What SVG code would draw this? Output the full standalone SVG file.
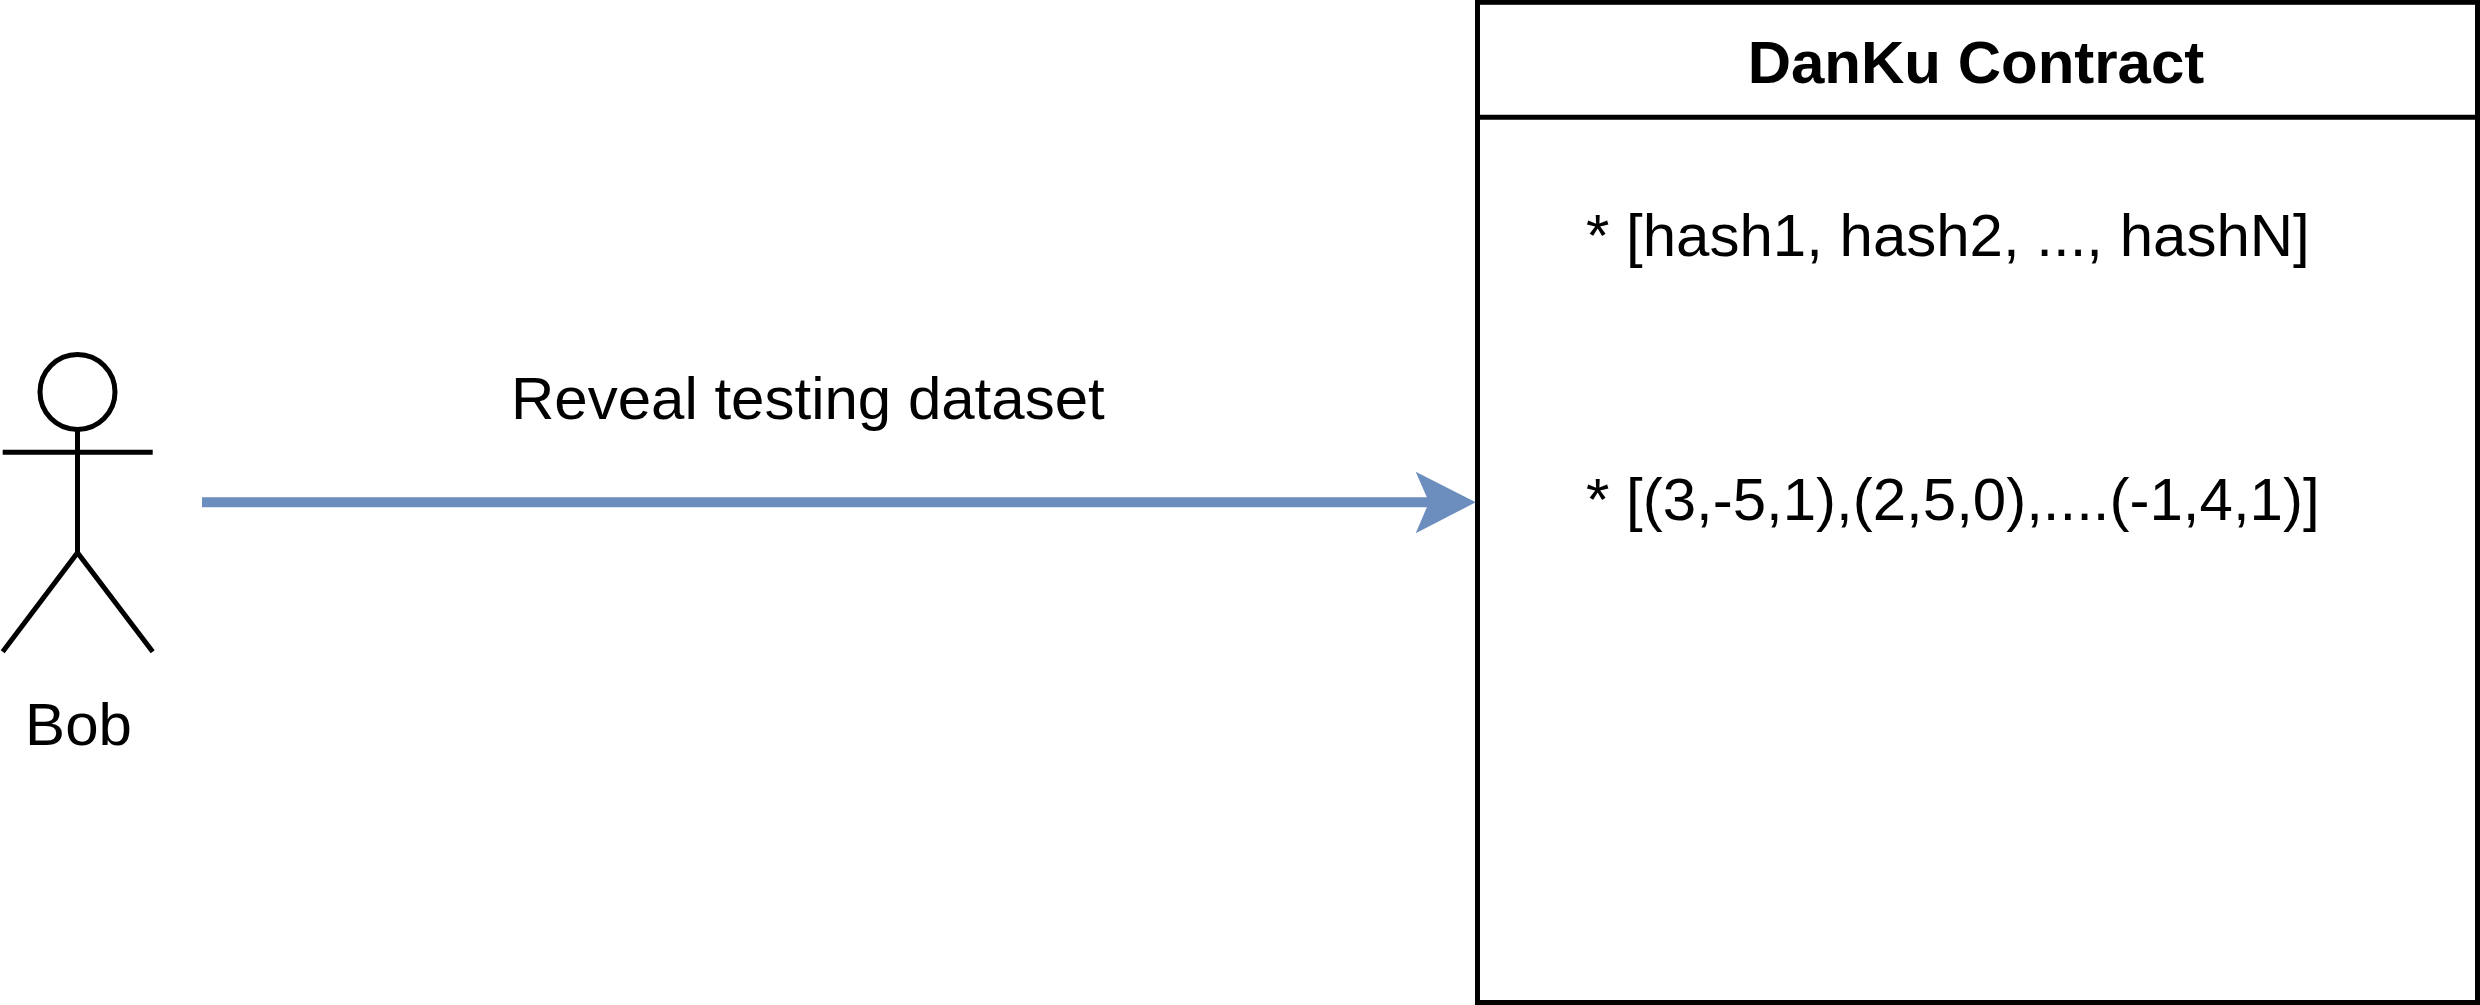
<svg xmlns="http://www.w3.org/2000/svg" width="2480" height="1005" viewBox="0 0 2480 1005">
<style>
text{font-family:"Liberation Sans",Arial,sans-serif;font-size:60px;fill:#000}
.b{font-weight:bold}
.s{fill:none;stroke:#000;stroke-width:5}
</style>
<rect width="2480" height="1005" fill="#fff"/>
<g id="actor-bob">
<circle class="s" cx="77.500" cy="392" r="37.500"/>
<path class="s" d="M77.500 429.500V552.700M2.700 452.300H152.700M2.700 651.700L77.500 552.700L152.700 651.700"/>
<text x="78.500" y="745" text-anchor="middle">Bob</text>
</g>
<g id="contract">
<rect x="1477.500" y="2.300" width="1000" height="1000.200" fill="none" stroke="#000" stroke-width="5"/>
<path d="M1477.500 117.200H2477.500" fill="none" stroke="#000" stroke-width="5"/>
<text class="b" x="1976" y="82.700" text-anchor="middle">DanKu Contract</text>
<text x="1586" y="256">* [hash1, hash2, ..., hashN]</text>
<text x="1586" y="520">* [(3,-5,1),(2,5,0),....(-1,4,1)]</text>
</g>
<g id="connectors">
<path d="M202 502.300H1432" fill="none" stroke="#6c8ebf" stroke-width="10"/>
<path d="M1475.700 502.300L1415.700 471.700L1429 502.300L1415.700 533.300Z" fill="#6c8ebf"/>
<text x="511" y="419">Reveal testing dataset</text>
</g>
</svg>
